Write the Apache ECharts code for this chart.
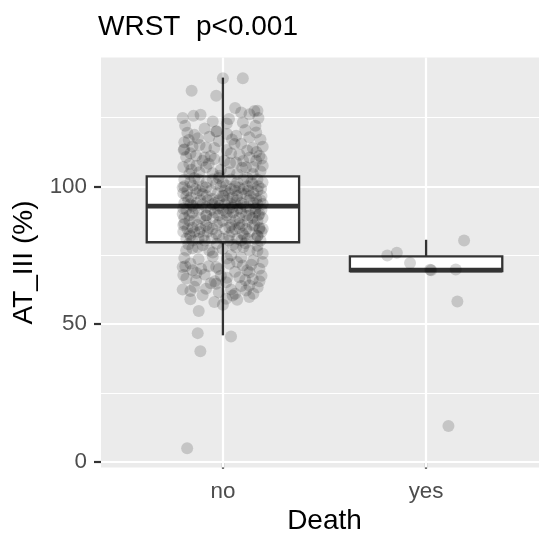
<!DOCTYPE html>
<html><head><meta charset="utf-8">
<script src="https://cdn.jsdelivr.net/npm/echarts@6/dist/echarts.min.js"></script>
<style>html,body{margin:0;padding:0;background:#fff}#c{width:539px;height:533px}</style>
</head><body><div id="c"></div>
<script>
const categories = ['no', 'yes'];
const yTickValues = [0, 50, 100];
const yMinorGrid = [25, 75, 125];
// box stats: [min, Q1, median, Q3, max]
const boxNo = [45.9, 79.7, 92.8, 103.6, 139.5];
const boxYes = [69.2, 69.2, 69.6, 74.6, 80.6];
// jittered points, group "no": horizontal jitter offset and value
const noJitter = [0.000,0.098,-0.154,-0.033,-0.198,-0.145,-0.186,-0.050,0.019,0.090,0.155,0.175,0.098,0.131,-0.140,-0.168,-0.124,-0.067,-0.033,0.065,0.164,-0.193,-0.083,-0.042,0.019,0.057,0.147,0.196,-0.181,-0.132,0.081,0.131,0.180,-0.165,-0.100,-0.042,0.007,0.065,0.164,0.196,-0.083,0.114,-0.165,-0.116,0.032,-0.017,0.147,-0.198,-0.149,-0.083,-0.033,0.016,0.081,0.147,0.188,-0.157,-0.100,-0.050,-0.001,0.048,0.114,0.164,0.196,-0.149,-0.083,-0.017,0.048,0.114,-0.190,-0.140,-0.083,-0.017,0.032,0.081,0.147,0.196,-0.165,-0.116,-0.033,0.098,0.171,-0.083,0.016,0.114,-0.198,0.180,-0.181,-0.124,-0.067,-0.001,0.065,0.131,0.196,-0.198,-0.149,-0.107,-0.033,0.032,0.098,0.131,0.180,-0.132,-0.083,-0.033,0.016,0.081,0.147,0.171,-0.198,-0.042,0.016,0.048,0.114,-0.119,-0.124,0.040,-0.111,-0.176,
  -0.175,-0.09,0.03,0.11,0.185,-0.15,-0.02,0.09,0.16,-0.195,-0.06,0.04,0.12,0.19,-0.13,-0.01,0.07,0.15,-0.19,-0.11,0.06,0.17,-0.05,0.10,-0.16,0.02,0.13,-0.07,
  -0.19,-0.12,-0.05,0.04,0.10,0.17,
  -0.16,-0.08,0.00,0.07,0.14,0.195,
  -0.175,-0.115,-0.06,0.01,0.06,0.125,0.17,
  -0.195,-0.13,-0.025,0.03,0.09,0.15,
  -0.17,-0.11,-0.075,-0.02,0.02,0.07,0.13,0.185,
  -0.19,-0.13,-0.04,0.06,0.09,0.15,
  -0.18,-0.12,-0.06,0.00,0.07,0.135,0.19,
  -0.15,-0.04,0.05,0.09,0.16,
  -0.19,-0.11,-0.05,0.035,0.08,0.145,0.195,
  -0.165,-0.085,0.00,0.06,0.12,0.17,
  -0.175,-0.11,-0.05,0.01,0.06,0.115,0.18,
  -0.195,-0.14,-0.075,0.045,0.13,0.19,
  -0.18,-0.12,-0.055,0.00,0.07,0.12,0.16,
  -0.15,-0.09,0.03,0.09,0.185,
  -0.17,-0.10,-0.03,0.05,0.11,0.17,-0.19,-0.12,-0.05,0.02,0.09,0.15,0.195,-0.16,-0.09,-0.01,0.06,0.11,0.19,-0.18,-0.14,-0.06,0.04,0.09,0.15,-0.195,-0.10,-0.02,0.07,0.13,-0.16,0.00,0.18,-0.07,0.14,
  -0.14,-0.02,0.12,
  -0.19,-0.10,-0.01,0.06,0.12,0.175,
  -0.135,0.04,0.10,
  -0.18,-0.08,0.005,0.07,0.135,0.19,
  -0.16,-0.10,-0.05,0.01,0.04,0.10,0.17,
  -0.195,-0.14,-0.025,0.03,0.085,0.16,
  -0.165,-0.08,-0.02,0.02,0.13,0.175,
  -0.195,-0.125,-0.03,0.04,0.095,0.155,
  -0.15,-0.07,0.08,0.18,
  -0.16,-0.095,-0.02,0.03,0.105,0.17,
  -0.15,-0.05,0.04,0.10,0.17,-0.185,-0.02,0.07,0.12,-0.13,-0.04,0.13,-0.16,0.06,0.02,
  -0.155,0.035,-0.09,0.165,-0.115,0.045,0.185,-0.19,-0.03,0.095];
const noValues = [139.3,139.3,134.7,132.9,124.8,125.6,122.0,123.6,122.8,126.8,127.4,124.8,123.2,126.2,118.7,116.8,117.5,118.0,119.9,118.4,119.6,113.2,114.1,113.9,113.2,115.4,113.9,114.4,110.7,111.1,111.5,110.5,111.1,108.1,109.3,109.9,109.3,108.7,109.3,107.5,106.9,106.9,104.5,105.1,105.1,103.9,104.5,99.6,100.3,99.6,100.9,100.3,99.6,100.9,99.1,96.0,97.2,95.4,96.6,96.0,97.2,95.4,93.6,93.0,92.4,93.0,92.4,92.6,86.4,87.6,85.8,87.0,85.1,86.4,85.8,84.6,82.8,83.4,82.8,82.8,82.1,89.4,90.6,89.4,90.0,90.0,76.7,77.9,76.7,77.3,77.9,76.7,75.5,70.7,69.5,70.1,70.7,71.9,71.3,68.8,70.1,65.8,62.8,64.6,65.2,67.0,66.4,63.4,62.5,58.0,59.2,60.4,62.2,54.7,46.7,45.5,40.1,4.9,
  119.5,121.0,124.5,120.5,117.0,114.5,116.5,115.5,122.0,107.0,111.0,112.0,113.0,110.0,107.5,106.0,104.5,107.0,116.0,126.0,128.5,127.5,104.8,109.2,112.0,119.0,117.8,108.2,
  102.5,102.5,102.5,102.5,102.5,102.5,
  101.5,101.5,101.5,101.5,101.5,101.5,
  98.5,98.5,98.5,98.5,98.5,98.5,98.5,
  97.5,97.5,97.5,97.5,97.5,97.5,
  95.0,95.0,95.0,95.0,95.0,95.0,95.0,95.0,
  94.0,94.0,94.0,94.0,94.0,94.0,
  91.5,91.5,91.5,91.5,91.5,91.5,91.5,
  90.5,90.5,90.5,90.5,90.5,
  88.5,88.5,88.5,88.5,88.5,88.5,88.5,
  87.5,87.5,87.5,87.5,87.5,87.5,
  84.5,84.5,84.5,84.5,84.5,84.5,84.5,
  83.5,83.5,83.5,83.5,83.5,83.5,
  81.0,81.0,81.0,81.0,81.0,81.0,81.0,
  80.3,80.3,80.3,80.3,80.3,
  79.0,78.6,79.2,78.8,79.3,78.4,74.0,73.5,74.5,73.8,74.2,73.2,72.5,72.0,68.0,67.5,69.0,66.0,67.5,66.5,63.5,64.8,62.5,63.8,61.0,67.8,60.5,61.5,58.8,59.8,59.0,57.0,65.5,71.0,71.5,
  103.0,103.0,103.0,
  100.0,100.0,100.0,100.0,100.0,100.0,
  99.0,99.0,99.0,
  96.5,96.5,96.5,96.5,96.5,96.5,
  93.5,93.5,93.5,93.5,93.5,93.5,93.5,
  92.0,92.0,92.0,92.0,92.0,92.0,
  89.5,89.5,89.5,89.5,89.5,89.5,
  86.0,86.0,86.0,86.0,86.0,86.0,
  85.0,85.0,85.0,85.0,
  82.0,82.0,82.0,82.0,82.0,82.0,
  77.5,76.0,75.0,78.0,76.5,71.0,70.0,72.5,69.5,68.5,65.5,64.0,62.0,61.0,66.8,
  106.0,108.5,110.5,112.5,115.0,117.0,105.5,113.5,120.0,106.8];
const yesJitter = [-0.191,-0.144,-0.079,0.020,0.025,0.146,0.187,0.154,0.110];
const yesValues = [74.9,75.9,72.2,69.7,69.5,69.8,80.3,58.2,13.0];

const FONT = 'Liberation Sans, Arial, sans-serif';
const noPts = noValues.map((v, i) => [1 + noJitter[i], v]);
const yesPts = yesValues.map((v, i) => [2 + yesJitter[i], v]);
const boxData = [[1].concat(boxNo), [2].concat(boxYes)];

const gridLines = [];
yTickValues.forEach(v => gridLines.push({yAxis: v, lineStyle: {width: 2.2}}));
yMinorGrid.forEach(v => gridLines.push({yAxis: v, lineStyle: {width: 1.1}}));
[1, 2].forEach(v => gridLines.push({xAxis: v, lineStyle: {width: 2.2}}));

const chart = echarts.init(document.getElementById('c'), null, {renderer: 'canvas'});
chart.setOption({
  animation: false,
  title: {
    text: 'WRST  p<0.001', left: 98, top: 13, padding: 0,
    textStyle: {fontSize: 28, fontWeight: 'normal', color: '#000', fontFamily: FONT}
  },
  grid: {left: 101, top: 57.5, width: 447, height: 410, show: true, backgroundColor: '#EBEBEB', borderWidth: 0,
    containLabel: false, outerBoundsMode: 'none'},
  xAxis: {
    type: 'value', min: 0.4, max: 2.6,
    name: 'Death', nameLocation: 'middle', nameGap: 39,
    nameTextStyle: {fontSize: 28, color: '#000', fontFamily: FONT},
    axisLine: {show: false},
    splitLine: {show: false},
    axisTick: {show: true, customValues: [1, 2], length: 7, lineStyle: {color: '#333', width: 2.2}},
    axisLabel: {customValues: [1, 2], fontSize: 22.4, color: '#4D4D4D', fontFamily: FONT, margin: 13,
      formatter: v => categories[Math.round(v) - 1] || ''}
  },
  yAxis: {
    type: 'value', min: -2.1, max: 146.8,
    name: 'AT_III (%)', nameLocation: 'middle', nameGap: 60,
    nameTextStyle: {fontSize: 28, color: '#000', fontFamily: FONT},
    axisLine: {show: false},
    splitLine: {show: false},
    axisTick: {show: true, customValues: yTickValues, length: 7, lineStyle: {color: '#333', width: 2.2}},
    axisLabel: {customValues: yTickValues, fontSize: 22.4, color: '#4D4D4D', fontFamily: FONT, margin: 14}
  },
  series: [
    {
      type: 'scatter', z: 1, silent: true, symbolSize: 0, data: [[0.4, -2.1]],
      markLine: {silent: true, z: 1, symbol: 'none', label: {show: false}, animation: false,
        lineStyle: {color: '#FFFFFF', type: 'solid'}, data: gridLines}
    },
    {
      type: 'custom', z: 2, silent: true, data: boxData,
      encode: {x: 0, y: [1, 2, 3, 4, 5]},
      renderItem: function (params, api) {
        const x = api.value(0);
        const mn = api.value(1), q1 = api.value(2), md = api.value(3), q3 = api.value(4), mx = api.value(5);
        const pMax = api.coord([x, mx]), pQ3 = api.coord([x, q3]), pQ1 = api.coord([x, q1]);
        const pMin = api.coord([x, mn]), pMd = api.coord([x, md]);
        const l = api.coord([x - 0.375, q3])[0], r = api.coord([x + 0.375, q3])[0];
        const st = {stroke: '#333333', lineWidth: 2.3, fill: null};
        return {type: 'group', children: [
          {type: 'line', shape: {x1: pQ3[0], y1: pQ3[1], x2: pMax[0], y2: pMax[1]}, style: st},
          {type: 'line', shape: {x1: pQ1[0], y1: pQ1[1], x2: pMin[0], y2: pMin[1]}, style: st},
          {type: 'rect', shape: {x: l, y: pQ3[1], width: r - l, height: pQ1[1] - pQ3[1]},
            style: {fill: '#FFFFFF', stroke: '#333333', lineWidth: 2.3}},
          {type: 'line', shape: {x1: l, y1: pMd[1], x2: r, y2: pMd[1]}, style: {stroke: '#333333', lineWidth: 4.8}}
        ]};
      }
    },
    {
      type: 'scatter', z: 3, silent: true, symbol: 'circle', symbolSize: 12,
      itemStyle: {color: 'rgba(0,0,0,0.2)'}, data: noPts
    },
    {
      type: 'scatter', z: 3, silent: true, symbol: 'circle', symbolSize: 12,
      itemStyle: {color: 'rgba(0,0,0,0.2)'}, data: yesPts
    }
  ]
});
</script></body></html>
